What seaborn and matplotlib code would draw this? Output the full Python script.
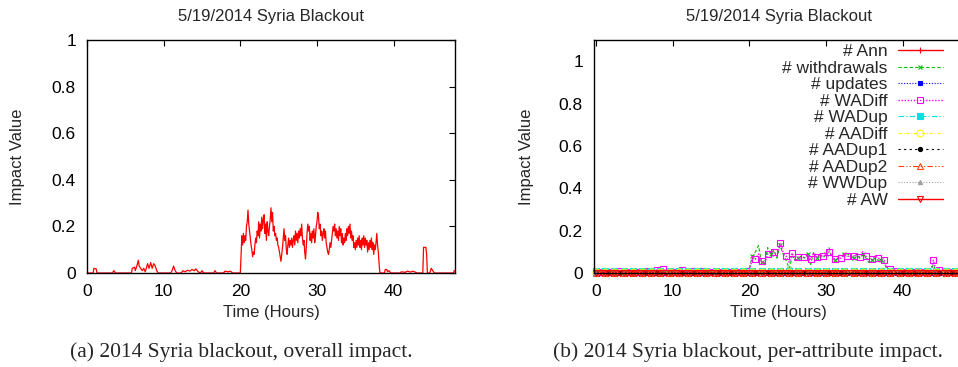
import numpy as np
import matplotlib
matplotlib.use("Agg")
import matplotlib.pyplot as plt
import seaborn as sns
from matplotlib.ticker import FuncFormatter

# ---------------- data: panel (a) overall impact ----------------
quiet_before_t = [0, 0.8, 0.9, 1.2, 1.3, 3.3, 3.5, 3.7, 5.8, 5.9, 6.2, 6.3, 6.5, 6.7, 6.8, 7.0, 7.2, 7.4,
                  7.6, 7.9, 8.1, 8.3, 8.5, 8.7, 8.9, 9.1, 9.3, 10.9, 11.1, 11.3, 11.5, 11.7, 12.3, 12.5,
                  12.8, 13.1, 13.4, 13.7, 14.0, 14.2, 14.5, 14.8, 15.0, 15.2, 16.5, 16.7, 16.9, 17.8,
                  18.0, 18.4, 18.7, 19.0, 19.9]
quiet_before_v = [0, 0, 0.02, 0.018, 0, 0, 0.01, 0, 0, 0.02, 0.025, 0.01, 0.03, 0.055, 0.03, 0.02, 0.01, 0.02,
                  0.005, 0.04, 0.02, 0.045, 0.02, 0.04, 0.03, 0.01, 0, 0, 0.01, 0.03, 0.01, 0, 0, 0.01,
                  0.005, 0.012, 0.008, 0.015, 0.01, 0.018, 0.005, 0, 0.01, 0, 0, 0.01, 0, 0,
                  0.008, 0.005, 0.008, 0, 0]
active_start = 20.0
active_step = 0.1
active_v = [0.0, 0.08, 0.16, 0.12, 0.17, 0.13, 0.16, 0.14, 0.2, 0.22,
            0.27, 0.21, 0.18, 0.15, 0.12, 0.1, 0.07, 0.09, 0.08, 0.12,
            0.15, 0.13, 0.18, 0.16, 0.22, 0.15, 0.21, 0.18, 0.24, 0.19,
            0.23, 0.25, 0.17, 0.21, 0.14, 0.22, 0.18, 0.16, 0.2, 0.23,
            0.28, 0.22, 0.26, 0.18, 0.2, 0.16, 0.17, 0.14, 0.15, 0.12,
            0.11, 0.09, 0.07, 0.05, 0.08, 0.11, 0.15, 0.19, 0.14, 0.16,
            0.1, 0.08, 0.12, 0.15, 0.11, 0.14, 0.12, 0.15, 0.11, 0.14,
            0.16, 0.12, 0.18, 0.14, 0.17, 0.13, 0.18, 0.15, 0.19, 0.16,
            0.21, 0.15, 0.12, 0.14, 0.09, 0.06, 0.11, 0.17, 0.21, 0.18,
            0.2, 0.14, 0.17, 0.13, 0.18, 0.15, 0.19, 0.13, 0.16, 0.2,
            0.22, 0.26, 0.24, 0.19, 0.21, 0.16, 0.18, 0.14, 0.17, 0.19,
            0.15, 0.18, 0.13, 0.11, 0.09, 0.08, 0.1, 0.13, 0.11, 0.14,
            0.17, 0.2, 0.18, 0.21, 0.16, 0.19, 0.15, 0.18, 0.14, 0.2,
            0.16, 0.19, 0.13, 0.17, 0.12, 0.15, 0.13, 0.17, 0.14, 0.19,
            0.16, 0.2, 0.17, 0.21, 0.15, 0.18, 0.14, 0.16, 0.11, 0.13,
            0.1, 0.14, 0.11, 0.15, 0.12, 0.16, 0.11, 0.14, 0.1, 0.15,
            0.12, 0.16, 0.11, 0.15, 0.12, 0.14, 0.09, 0.13, 0.1, 0.14,
            0.11, 0.15, 0.1, 0.13, 0.08, 0.12, 0.1, 0.13, 0.17, 0.12,
            0.09, 0.04, 0.0]
quiet_after_t = [38.3, 38.8, 38.9, 39.1, 39.2, 39.4, 39.6, 40.8, 41.0, 41.5, 41.8, 42.2, 42.5, 42.9, 43.1,
                 43.8, 43.9, 44.2, 44.3, 44.4, 44.7, 44.9, 45.1, 45.3, 47.8, 47.9, 48.0]
quiet_after_v = [0, 0, 0.015, 0.015, 0.005, 0.01, 0, 0, 0.005, 0.003, 0.008, 0.004, 0.008, 0.003, 0,
                 0, 0.11, 0.11, 0.08, 0, 0, 0.02, 0.01, 0, 0, 0.01, 0.01]

# ---------------- data: panel (b) per-attribute impact (0.4 h sampling) ----------------
step_b = 0.4
wadiff = [0.003, 0.003, 0.003, 0.003, 0.003, 0.003, 0.003, 0.008, 0.01, 0.003,
          0.003, 0.003, 0.003, 0.003, 0.003, 0.005, 0.008, 0.012, 0.006, 0.01,
          0.015, 0.01, 0.018, 0.006, 0.003, 0.003, 0.003, 0.005, 0.013, 0.004,
          0.003, 0.004, 0.01, 0.006, 0.008, 0.006, 0.005, 0.003, 0.003, 0.003,
          0.003, 0.005, 0.004, 0.003, 0.003, 0.006, 0.004, 0.003, 0.003, 0.004,
          0.01, 0.07, 0.065, 0.09, 0.055, 0.045, 0.09, 0.1, 0.1, 0.08,
          0.14, 0.1, 0.08, 0.05, 0.095, 0.055, 0.075, 0.07, 0.075, 0.085,
          0.065, 0.095, 0.075, 0.085, 0.08, 0.085, 0.1, 0.08, 0.065, 0.07,
          0.07, 0.085, 0.08, 0.075, 0.08, 0.085, 0.075, 0.1, 0.08, 0.055,
          0.065, 0.08, 0.07, 0.065, 0.06, 0.02, 0.018, 0.008, 0.01, 0.005,
          0.003, 0.003, 0.003, 0.003, 0.003, 0.005, 0.004, 0.005, 0.003, 0.004,
          0.06, 0.008, 0.015, 0.004, 0.003, 0.003, 0.003, 0.003, 0.003, 0.003,
          0.003]
withdrawals = [0.002, 0.002, 0.002, 0.002, 0.002, 0.002, 0.002, 0.002, 0.004, 0.002,
               0.002, 0.002, 0.002, 0.002, 0.002, 0.002, 0.006, 0.02, 0.008, 0.004,
               0.006, 0.004, 0.006, 0.003, 0.002, 0.002, 0.002, 0.002, 0.006, 0.002,
               0.002, 0.002, 0.004, 0.006, 0.015, 0.02, 0.005, 0.002, 0.002, 0.002,
               0.002, 0.002, 0.002, 0.002, 0.002, 0.008, 0.002, 0.002, 0.002, 0.002,
               0.02, 0.08, 0.1, 0.13, 0.05, 0.04, 0.12, 0.09, 0.11, 0.07,
               0.13, 0.09, 0.06, 0.02, 0.08, 0.06, 0.07, 0.08, 0.07, 0.09,
               0.04, 0.1, 0.07, 0.09, 0.07, 0.09, 0.12, 0.07, 0.06, 0.07,
               0.08, 0.09, 0.09, 0.08, 0.07, 0.09, 0.07, 0.09, 0.07, 0.05,
               0.06, 0.07, 0.06, 0.06, 0.05, 0.01, 0.005, 0.002, 0.004, 0.002,
               0.002, 0.002, 0.002, 0.002, 0.002, 0.01, 0.002, 0.002, 0.002, 0.002,
               0.04, 0.002, 0.006, 0.002, 0.002, 0.002, 0.002, 0.002, 0.002, 0.002,
               0.002]
n_b = len(wadiff)
ann = [0.0] * n_b
updates = [0.0] * n_b
wadup = [0.008] * n_b
aadiff = [0.003] * n_b
aadup1 = [0.0] * n_b
aadup1[56] = 0.005
aadup2 = [0.0] * n_b
wwdup = [0.0] * n_b
wwdup[17] = 0.02
wwdup[105] = 0.015
aw = [0.0] * n_b

series_names = ["# Ann", "# withdrawals", "# updates", "# WADiff", "# WADup",
                "# AADiff", "# AADup1", "# AADup2", "# WWDup", "# AW"]
series_values = [ann, withdrawals, updates, wadiff, wadup, aadiff, aadup1, aadup2, wwdup, aw]

title_text = "5/19/2014 Syria Blackout"
caption_a = "(a) 2014 Syria blackout, overall impact."
caption_b = "(b) 2014 Syria blackout, per-attribute impact."

# ---------------- styling ----------------
sns.set_style("white")
plt.rcParams['font.family'] = ['Liberation Sans', 'DejaVu Sans']
plt.rcParams['axes.linewidth'] = 1.0

fig = plt.figure(figsize=(9.58, 3.67), dpi=100)
ax_a = fig.add_axes([87 / 958, 1 - 273 / 367, 368 / 958, 233 / 367])
ax_b = fig.add_axes([594 / 958, 1 - 273 / 367, 370 / 958, 233 / 367])

fmt = FuncFormatter(lambda v, p: "%g" % round(v, 3))
FS = 12.5

# panel (a)
hours_a = np.concatenate([quiet_before_t,
                          active_start + active_step * np.arange(len(active_v)),
                          quiet_after_t])
impact_a = np.concatenate([quiet_before_v, active_v, quiet_after_v])
sns.lineplot(x=hours_a, y=impact_a, ax=ax_a, color="#ff0000", linewidth=0.9, sort=False,
             estimator=None)
ax_a.set_xlim(0, 48)
ax_a.set_ylim(0, 1)
ax_a.set_yticks([0, 0.2, 0.4, 0.6, 0.8, 1.0])

# panel (b)
hours_b = step_b * np.arange(n_b)
styles = [
    dict(color="#ff0000", linestyle="-", marker="+", ms=5, mfc="#ff0000", every=1, lw=1.0),
    dict(color="#00c000", linestyle=(0, (3, 2)), marker="x", ms=3, mfc="#00c000", every=3, lw=0.8),
    dict(color="#0000ff", linestyle=(0, (1, 1.5)), marker="s", ms=3, mfc="#0000ff", every=2, lw=0.8),
    dict(color="#ff00ff", linestyle=(0, (1, 1.2)), marker="s", ms=5, mfc="none", every=2, lw=1.0),
    dict(color="#00e0e0", linestyle=(0, (5, 2, 1, 2)), marker="s", ms=4, mfc="#00e0e0", every=3, lw=0.8),
    dict(color="#ffff00", linestyle=(0, (3, 1.5, 1, 1.5)), marker="o", ms=5, mfc="none", every=3, lw=0.8),
    dict(color="#000000", linestyle=(0, (2, 3)), marker="o", ms=3, mfc="#000000", every=4, lw=0.8),
    dict(color="#ff4500", linestyle=(0, (5, 2, 1, 2, 1, 2)), marker="^", ms=4, mfc="none", every=3, lw=0.8),
    dict(color="#a0a0a0", linestyle=(0, (1, 1.5)), marker="^", ms=3, mfc="#a0a0a0", every=3, lw=0.8),
    dict(color="#ff0000", linestyle="-", marker="v", ms=4, mfc="none", every=1, lw=1.0),
]
for name, vals, st in zip(series_names, series_values, styles):
    sns.lineplot(x=hours_b, y=vals, ax=ax_b, color=st["color"], linestyle=st["linestyle"],
                 marker=st["marker"], markersize=st["ms"], markerfacecolor=st["mfc"],
                 markeredgecolor=st["color"], markeredgewidth=0.8, markevery=st["every"],
                 linewidth=st["lw"], label=name, clip_on=False, estimator=None)
ax_b.set_xlim(-0.25, 48)
ax_b.set_ylim(0, 1.1)
ax_b.set_yticks([0, 0.2, 0.4, 0.6, 0.8, 1.0])

leg = ax_b.legend(loc="upper right", bbox_to_anchor=((943 - 594) / 370, (273 - 44) / 233),
                  frameon=False, markerfirst=False, fontsize=FS, borderpad=0, borderaxespad=0,
                  labelspacing=0.08, handlelength=2.6, handletextpad=0.6)

for ax in (ax_a, ax_b):
    ax.set_xticks([0, 10, 20, 30, 40])
    ax.yaxis.set_major_formatter(fmt)
    ax.xaxis.set_major_formatter(fmt)
    ax.tick_params(direction="in", length=4, width=0.8, top=True, right=True,
                   labelsize=FS, pad=8, colors="black")
    for s in ax.spines.values():
        s.set_visible(True)
        s.set_color("black")
        s.set_linewidth(1.0)
    ax.set_title(title_text, fontsize=12, pad=14)
    ax.set_xlabel("Time (Hours)", fontsize=12)
    ax.set_ylabel("Impact Value", fontsize=12)

ax_a.yaxis.set_label_coords((18 - 87) / 368, 0.5)
ax_b.yaxis.set_label_coords((527 - 594) / 370, 0.5)
ax_a.xaxis.set_label_coords(0.5, -(313 - 273) / 233)
ax_b.xaxis.set_label_coords((778 - 594) / 370, -(313 - 273) / 233)
for ax in (ax_a, ax_b):
    ax.xaxis.label.set_va("center")
    ax.yaxis.label.set_va("center")

fig.text(241 / 958, 1 - 352 / 367, caption_a, ha="center", va="center",
         family="Liberation Serif", fontsize=15.5)
fig.text(748 / 958, 1 - 352 / 367, caption_b, ha="center", va="center",
         family="Liberation Serif", fontsize=15.5)

fig.savefig("out.png", dpi=100)
